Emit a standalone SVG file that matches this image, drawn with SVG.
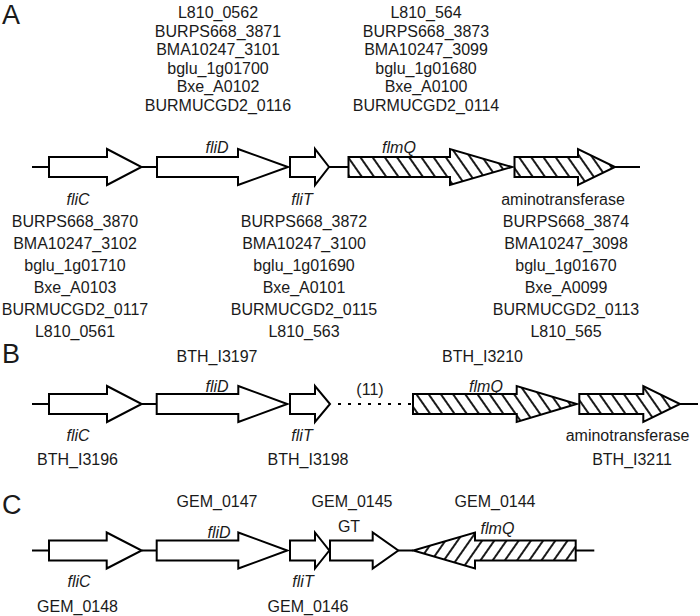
<svg xmlns="http://www.w3.org/2000/svg" width="700" height="616" viewBox="0 0 700 616">
<defs>
<pattern id="hatchR" patternUnits="userSpaceOnUse" width="10" height="10" patternTransform="rotate(55)">
<line x1="0" y1="5" x2="10" y2="5" stroke="#000" stroke-width="1.8"/>
</pattern>
<pattern id="hatchL" patternUnits="userSpaceOnUse" width="10" height="10" patternTransform="rotate(-55)">
<line x1="0" y1="5" x2="10" y2="5" stroke="#000" stroke-width="1.8"/>
</pattern>
</defs>
<style>
text{font-family:"Liberation Sans",Arial,sans-serif;fill:#1a1a1a;}
.lab{font-size:16px;text-anchor:middle;}
.gene{font-size:16px;font-style:italic;text-anchor:middle;}
.sec{font-size:27px;}
.gen{fill:#fff;stroke:#000;stroke-width:2;stroke-linejoin:miter;}
.hat{fill:url(#hatchR);stroke:#000;stroke-width:2;}
.hatl{fill:url(#hatchL);stroke:#000;stroke-width:2;}
.ln{stroke:#000;stroke-width:2;fill:none;}
.dot{stroke:#000;stroke-width:2;fill:none;stroke-dasharray:3 7;}
</style>
<rect width="700" height="616" fill="#fff"/>

<!-- Section A -->
<text class="sec" x="2" y="24">A</text>
<g id="A-connectors">
<line class="ln" x1="32" y1="167" x2="49" y2="167"/>
<line class="ln" x1="141.5" y1="167" x2="157" y2="167"/>
<line class="ln" x1="329" y1="167" x2="348.5" y2="167"/>
<line class="ln" x1="615" y1="167" x2="640" y2="167"/>
</g>
<g id="A-fliC">
<polygon class="gen" points="49,157 107,157 107,149 141.5,167 107,185 107,177 49,177"/>
<text class="gene" x="78" y="205">fliC</text>
</g>
<g id="A-fliD">
<polygon class="gen" points="157,157 238,157 238,149 288,167 238,185 238,177 157,177"/>
<text class="gene" x="217" y="153">fliD</text>
</g>
<g id="A-fliT">
<polygon class="gen" points="290,157 315,157 315,149 329,167 315,185 315,177 290,177"/>
<text class="gene" x="302" y="205">fliT</text>
</g>
<g id="A-flmQ">
<polygon class="hat" points="348.5,157 450,157 450,149 512,167 450,185 450,177 348.5,177"/>
<text class="gene" x="399" y="153">flmQ</text>
</g>
<g id="A-amino">
<polygon class="hat" points="514.5,157 578,157 578,149 615,167 578,185 578,177 514.5,177"/>
<text class="lab" x="563" y="205">aminotransferase</text>
</g>
<g id="A-top1">
<text class="lab" x="218" y="18.3">L810_0562</text>
<text class="lab" x="218" y="36.8">BURPS668_3871</text>
<text class="lab" x="218" y="55.3">BMA10247_3101</text>
<text class="lab" x="218" y="73.8">bglu_1g01700</text>
<text class="lab" x="218" y="92.3">Bxe_A0102</text>
<text class="lab" x="218" y="110.8">BURMUCGD2_0116</text>
</g>
<g id="A-top2">
<text class="lab" x="426" y="18.3">L810_564</text>
<text class="lab" x="426" y="36.8">BURPS668_3873</text>
<text class="lab" x="426" y="55.3">BMA10247_3099</text>
<text class="lab" x="426" y="73.8">bglu_1g01680</text>
<text class="lab" x="426" y="92.3">Bxe_A0100</text>
<text class="lab" x="426" y="110.8">BURMUCGD2_0114</text>
</g>
<g id="A-bot1">
<text class="lab" x="75" y="227">BURPS668_3870</text>
<text class="lab" x="75" y="249">BMA10247_3102</text>
<text class="lab" x="75" y="271">bglu_1g01710</text>
<text class="lab" x="75" y="293">Bxe_A0103</text>
<text class="lab" x="75" y="315">BURMUCGD2_0117</text>
<text class="lab" x="75" y="337">L810_0561</text>
</g>
<g id="A-bot2">
<text class="lab" x="304" y="227">BURPS668_3872</text>
<text class="lab" x="304" y="249">BMA10247_3100</text>
<text class="lab" x="304" y="271">bglu_1g01690</text>
<text class="lab" x="304" y="293">Bxe_A0101</text>
<text class="lab" x="304" y="315">BURMUCGD2_0115</text>
<text class="lab" x="304" y="337">L810_563</text>
</g>
<g id="A-bot3">
<text class="lab" x="566" y="227">BURPS668_3874</text>
<text class="lab" x="566" y="249">BMA10247_3098</text>
<text class="lab" x="566" y="271">bglu_1g01670</text>
<text class="lab" x="566" y="293">Bxe_A0099</text>
<text class="lab" x="566" y="315">BURMUCGD2_0113</text>
<text class="lab" x="566" y="337">L810_565</text>
</g>

<!-- Section B -->
<text class="sec" x="2" y="363">B</text>
<g id="B-connectors">
<line class="ln" x1="32" y1="404" x2="49" y2="404"/>
<line class="ln" x1="141.7" y1="404" x2="156.7" y2="404"/>
<line class="dot" x1="338" y1="404" x2="411" y2="404"/>
<line class="ln" x1="680" y1="404" x2="698" y2="404"/>
<text class="lab" x="370" y="395">(11)</text>
</g>
<g id="B-fliC">
<polygon class="gen" points="49,394 107,394 107,386 141.7,404 107,422 107,414 49,414"/>
<text class="gene" x="78" y="441">fliC</text>
<text class="lab" x="77.5" y="465">BTH_I3196</text>
</g>
<g id="B-fliD">
<polygon class="gen" points="156.7,394 238.3,394 238.3,386 287.3,404 238.3,422 238.3,414 156.7,414"/>
<text class="gene" x="217" y="392">fliD</text>
<text class="lab" x="217" y="362">BTH_I3197</text>
</g>
<g id="B-fliT">
<polygon class="gen" points="290,394 315,394 315,386 330,404 315,422 315,414 290,414"/>
<text class="gene" x="302" y="441">fliT</text>
<text class="lab" x="308" y="465">BTH_I3198</text>
</g>
<g id="B-flmQ">
<polygon class="hat" points="413,394 516.7,394 516.7,386 576.7,404 516.7,422 516.7,414 413,414"/>
<text class="gene" x="486" y="392">flmQ</text>
<text class="lab" x="482.5" y="362">BTH_I3210</text>
</g>
<g id="B-amino">
<polygon class="hat" points="579.3,394 643.3,394 643.3,386 680,404 643.3,422 643.3,414 579.3,414"/>
<text class="lab" x="627.5" y="441">aminotransferase</text>
<text class="lab" x="632" y="465">BTH_I3211</text>
</g>

<!-- Section C -->
<text class="sec" x="2" y="514">C</text>
<g id="C-connectors">
<line class="ln" x1="32" y1="550.5" x2="49" y2="550.5"/>
<line class="ln" x1="141.7" y1="550.5" x2="156.7" y2="550.5"/>
<line class="ln" x1="398.3" y1="550.5" x2="413.3" y2="550.5"/>
<line class="ln" x1="575.7" y1="550.5" x2="594.3" y2="550.5"/>
</g>
<g id="C-fliC">
<polygon class="gen" points="49,540.5 106.7,540.5 106.7,532.5 141.7,550.5 106.7,568.5 106.7,560.5 49,560.5"/>
<text class="gene" x="79" y="587">fliC</text>
<text class="lab" x="77.5" y="612">GEM_0148</text>
</g>
<g id="C-fliD">
<polygon class="gen" points="156.7,540.5 238.3,540.5 238.3,532.5 287.3,550.5 238.3,568.5 238.3,560.5 156.7,560.5"/>
<text class="gene" x="219" y="538">fliD</text>
<text class="lab" x="217" y="507">GEM_0147</text>
</g>
<g id="C-fliT">
<polygon class="gen" points="290,540.5 315,540.5 315,532.5 329.3,550.5 315,568.5 315,560.5 290,560.5"/>
<text class="gene" x="303" y="587">fliT</text>
<text class="lab" x="308" y="612">GEM_0146</text>
</g>
<g id="C-GT">
<polygon class="gen" points="330,540.5 372.7,540.5 372.7,532.5 398.3,550.5 372.7,568.5 372.7,560.5 330,560.5"/>
<text class="lab" x="349" y="532">GT</text>
<text class="lab" x="352" y="507">GEM_0145</text>
</g>
<g id="C-flmQ">
<polygon class="hatl" points="575.7,540.5 475,540.5 475,532.5 413.3,550.5 475,568.5 475,560.5 575.7,560.5"/>
<text class="gene" x="497.5" y="534">flmQ</text>
<text class="lab" x="495" y="507">GEM_0144</text>
</g>
</svg>
